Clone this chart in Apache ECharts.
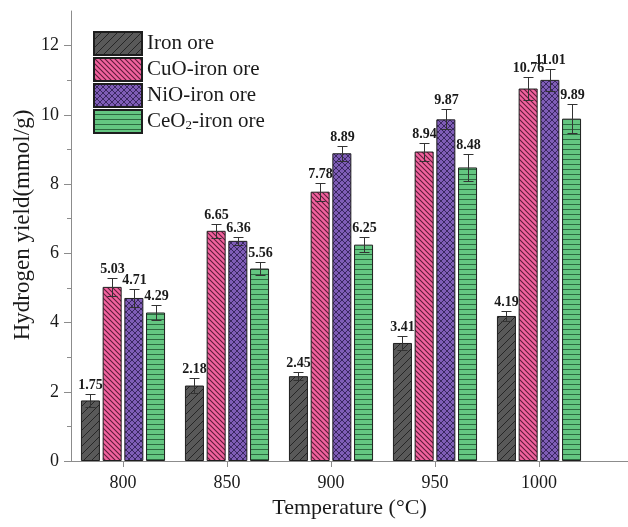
<!DOCTYPE html>
<html>
<head>
<meta charset="utf-8">
<script src="https://cdn.jsdelivr.net/npm/echarts@6/dist/echarts.min.js"></script>
<style>
  html, body { margin: 0; padding: 0; background: #fff; }
  #chart { width: 628px; height: 527px; }
</style>
</head>
<body>
<div id="chart"></div>
<script>
// Reaction temperatures (°C); the trailing blank slot leaves room past 1000
const temperatures = ['800', '850', '900', '950', '1000', ''];
// Hydrogen yield (mmol/g) per oxygen carrier
const ironOre = [1.75, 2.18, 2.45, 3.41, 4.19];
const cuoIronOre = [5.03, 6.65, 7.78, 8.94, 10.76];
const nioIronOre = [4.71, 6.36, 8.89, 9.87, 11.01];
const ceo2IronOre = [4.29, 5.56, 6.25, 8.48, 9.89];
// Standard deviations (error bars)
const ironOreErr = [0.20, 0.21, 0.12, 0.21, 0.15];
const cuoIronOreErr = [0.25, 0.21, 0.26, 0.26, 0.32];
const nioIronOreErr = [0.27, 0.12, 0.21, 0.29, 0.32];
const ceo2IronOreErr = [0.22, 0.19, 0.21, 0.38, 0.42];
// Axis ticks
const yMajorTicks = [0, 2, 4, 6, 8, 10, 12];
const yMinorTicks = [1, 3, 5, 7, 9, 11];
const seriesNames = ['Iron ore', 'CuO-iron ore', 'NiO-iron ore', 'CeO2-iron ore'];

const SERIF = '"Liberation Serif", "Times New Roman", serif';
const BAR_W = 19;
const BAR_GAP = 2.7;

// Hatch fill tiles
function hatch(kind, size, bg, ink, lw) {
  const c = document.createElement('canvas');
  c.width = size; c.height = size;
  const g = c.getContext('2d');
  g.fillStyle = bg;
  g.fillRect(0, 0, size, size);
  g.strokeStyle = ink;
  g.lineWidth = lw;
  const fwd = () => {
    g.beginPath();
    g.moveTo(0, size); g.lineTo(size, 0);
    g.moveTo(-1, 1); g.lineTo(1, -1);
    g.moveTo(size - 1, size + 1); g.lineTo(size + 1, size - 1);
    g.stroke();
  };
  const back = () => {
    g.beginPath();
    g.moveTo(0, 0); g.lineTo(size, size);
    g.moveTo(size - 1, -1); g.lineTo(size + 1, 1);
    g.moveTo(-1, size - 1); g.lineTo(1, size + 1);
    g.stroke();
  };
  if (kind === 'fwd') fwd();
  if (kind === 'back') back();
  if (kind === 'cross') { fwd(); back(); }
  if (kind === 'horiz') {
    g.beginPath();
    g.moveTo(0, size - 0.5); g.lineTo(size, size - 0.5);
    g.stroke();
  }
  return { image: c, repeat: 'repeat' };
}

const fills = [
  hatch('fwd', 8, '#595959', '#262626', 1),
  hatch('back', 5, '#f2629e', '#5e1c3b', 1.1),
  hatch('cross', 6, '#7f5db6', '#3a2760', 1),
  hatch('horiz', 5, '#64c681', '#2c6a40', 1)
];

const values = [ironOre, cuoIronOre, nioIronOre, ceo2IronOre];
const errors = [ironOreErr, cuoIronOreErr, nioIronOreErr, ceo2IronOreErr];

const barSeries = seriesNames.map((name, k) => ({
  name: name,
  type: 'bar',
  xAxisIndex: 0,
  yAxisIndex: 0,
  barWidth: BAR_W,
  barGap: (BAR_GAP / BAR_W * 100).toFixed(1) + '%',
  itemStyle: { color: fills[k], borderColor: '#1e1e1e', borderWidth: 1 },
  data: values[k],
  z: 2
}));

const errSeries = seriesNames.map((name, k) => ({
  type: 'custom',
  xAxisIndex: 0,
  yAxisIndex: 0,
  clip: false,
  z: 5,
  data: values[k].map((v, i) => [i, v, errors[k][i]]),
  encode: { x: 0, y: 1 },
  renderItem: function (params, api) {
    const i = api.value(0), v = api.value(1), e = api.value(2);
    const dx = (k - 1.5) * (BAR_W + BAR_GAP);
    const top = api.coord([i, v + e]);
    const bot = api.coord([i, v - e]);
    const x = Math.round(top[0] + dx) + 0.5;
    const yt = Math.round(top[1]) + 0.5, yb = Math.round(bot[1]) + 0.5;
    const cap = 5;
    const ls = { stroke: '#333', lineWidth: 1 };
    return {
      type: 'group',
      children: [
        { type: 'line', shape: { x1: x, y1: yt, x2: x, y2: yb }, style: ls },
        { type: 'line', shape: { x1: x - cap, y1: yt, x2: x + cap, y2: yt }, style: ls },
        { type: 'line', shape: { x1: x - cap, y1: yb, x2: x + cap, y2: yb }, style: ls },
        {
          type: 'text',
          style: {
            text: v.toFixed(2), x: x, y: yt - 2,
            align: 'center', verticalAlign: 'bottom',
            font: 'bold 14px ' + SERIF, fill: '#1a1a1a'
          }
        }
      ]
    };
  }
}));

const axisGrey = '#8c8c8c';
const chart = echarts.init(document.getElementById('chart'), null, { renderer: 'canvas' });
chart.setOption({
  backgroundColor: '#fff',
  animation: false,
  // six 104px-wide temperature slots; the last one runs past the right edge
  grid: { left: 71, right: -67, top: 11, bottom: 66, containLabel: false, outerBoundsMode: 'none' },
  legend: {
    data: seriesNames,
    orient: 'vertical',
    left: 93, top: 31,
    itemWidth: 48, itemHeight: 23, itemGap: 1,
    icon: 'rect',
    padding: 0,
    textStyle: {
      fontFamily: SERIF, fontSize: 21, color: '#1a1a1a', lineHeight: 22,
      rich: {
        n: { fontFamily: SERIF, fontSize: 21, color: '#1a1a1a', lineHeight: 22 },
        s: { fontFamily: SERIF, fontSize: 13, color: '#1a1a1a', lineHeight: 22, padding: [9, 0, 0, 0] }
      }
    },
    formatter: function (name) {
      if (name === 'CeO2-iron ore') return '{n|CeO}{s|2}{n|-iron ore}';
      return '{n|' + name + '}';
    }
  },
  xAxis: [
    {
      type: 'category', data: temperatures, position: 'bottom',
      name: 'Temperature (°C)', nameLocation: 'middle', nameGap: 36,
      nameTextStyle: { fontFamily: SERIF, fontSize: 22, color: '#1a1a1a', padding: [0, 67, 0, 0] },
      axisLine: { show: true, onZero: false, lineStyle: { color: axisGrey, width: 1 } },
      axisTick: { show: true, alignWithLabel: true, length: 6, inside: false, lineStyle: { color: axisGrey } },
      axisLabel: { margin: 13, fontFamily: SERIF, fontSize: 18, color: '#1a1a1a' },
      splitLine: { show: false }
    },
    {
      type: 'category', data: temperatures, position: 'top',
      axisLine: { show: true, lineStyle: { color: axisGrey, width: 1 } },
      axisTick: { show: false }, axisLabel: { show: false }, splitLine: { show: false }
    }
  ],
  yAxis: [
    {
      type: 'value', min: 0, max: 13, position: 'left',
      name: 'Hydrogen yield(mmol/g)', nameLocation: 'middle', nameGap: 37,
      nameMoveOverlap: false,
      nameTextStyle: { fontFamily: SERIF, fontSize: 23, color: '#1a1a1a', padding: [0, 0, 0, 22] },
      axisLine: { show: true, onZero: false, lineStyle: { color: axisGrey, width: 1 } },
      axisTick: { show: true, customValues: yMajorTicks, length: 7, lineStyle: { color: axisGrey } },
      axisLabel: { customValues: yMajorTicks, margin: 12, fontFamily: SERIF, fontSize: 18, color: '#1a1a1a' },
      splitLine: { show: false }
    },
    {
      type: 'value', min: 0, max: 13, position: 'left', offset: 0,
      axisLine: { show: false },
      axisTick: { show: true, customValues: yMinorTicks, length: 4, lineStyle: { color: axisGrey } },
      axisLabel: { show: false }, splitLine: { show: false }
    }
  ],
  series: barSeries.concat(errSeries)
});
</script>
</body>
</html>
